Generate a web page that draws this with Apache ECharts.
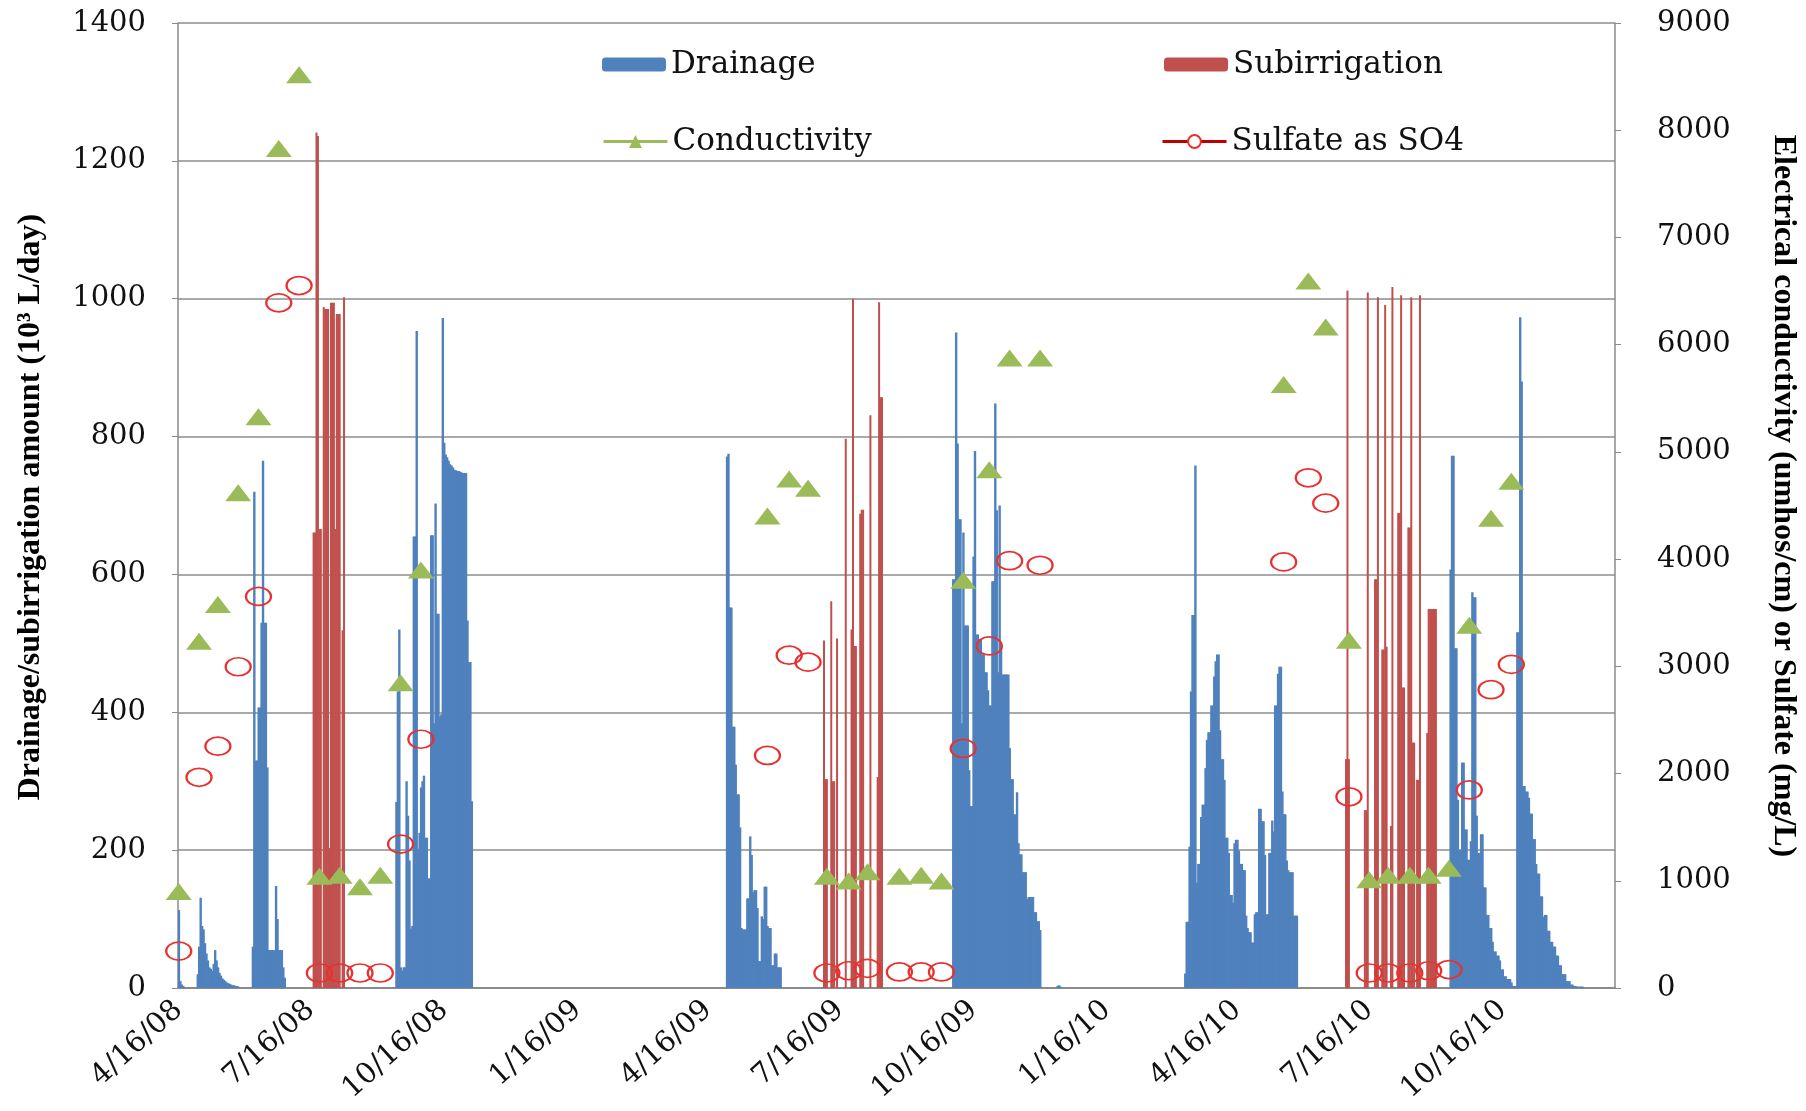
<!DOCTYPE html>
<html>
<head>
<meta charset="utf-8">
<script src="https://cdn.jsdelivr.net/npm/echarts@6.0.0/dist/echarts.min.js"></script>
<style>
html, body { margin: 0; padding: 0; background: #fff; }
#main { width: 1806px; height: 1111px; }
</style>
</head>
<body>
<div id="main"></div>
<script>
// axis range (daily categories)
var firstDay = '2008-04-16';
var lastDay = '2011-01-01';

// drainage, 10^3 L/day, daily values: [start date, values...]
var drain08a = ['2008-04-16', [113, 10, 5, 3]];
var drain08b = ['2008-04-29', [20, 60, 131, 90, 85, 65, 50, 40, 30, 28, 25, 35, 55, 40, 30, 22, 18, 14, 12, 10, 8, 7, 6, 5, 4, 4, 3, 3, 2]];
var drain08c = ['2008-06-06', [60, 720, 330, 330, 407, 407, 530, 765, 530, 530, 320, 55, 55, 55, 55, 55, 148, 100, 55, 55, 55, 30, 15]];
var drain08d = ['2008-09-13', [270, 430, 520, 30, 25, 30, 30, 300, 250, 185, 86, 90, 655, 655, 953, 202, 225, 291, 300, 308, 218, 218, 159, 159, 657, 657, 384, 703, 543, 543, 394, 397, 972, 791, 774, 770, 765, 760, 758, 755, 752, 751, 750, 750, 749, 748, 747, 747, 747, 533, 473, 473, 271]];
var drain09a = ['2009-04-29', [771, 775, 552, 552, 379, 379, 324, 281, 281, 233, 87, 85, 85, 85, 130, 130, 220, 193, 139, 142, 142, 116, 39, 39, 104, 100, 147, 147, 90, 87, 87, 33, 33, 50, 50, 30, 30, 30]];
var drain09b = ['2009-10-02', [593, 593, 951, 790, 680, 680, 384, 661, 526, 526, 526, 316, 264, 264, 626, 779, 513, 513, 506, 506, 484, 484, 458, 458, 432, 410, 410, 590, 590, 848, 693, 458, 700, 497, 455, 455, 455, 455, 455, 348, 303, 303, 252, 252, 284, 210, 194, 194, 168, 168, 168, 129, 132, 132, 132, 132, 110, 110, 97, 97, 84]];
var drain09c = ['2009-12-13', [3, 4, 2]];
var drain10a = ['2010-03-11', [21, 96, 96, 205, 430, 541, 541, 758, 153, 180, 180, 248, 266, 266, 319, 360, 371, 371, 410, 410, 452, 474, 484, 484, 374, 332, 332, 302, 218, 218, 196, 135, 135, 124, 210, 215, 215, 199, 180, 180, 171, 171, 105, 87, 81, 81, 66, 66, 107, 110, 110, 260, 260, 242, 242, 193, 107, 107, 196, 196, 243, 227, 410, 410, 456, 466, 466, 285, 252, 252, 185, 171, 168, 168, 168, 105, 105, 105]];
var drain10b = ['2010-09-10', [607, 772, 772, 493, 493, 273, 200, 200, 327, 327, 230, 230, 186, 186, 213, 574, 567, 567, 250, 196, 196, 223, 223, 146, 146, 106, 106, 87, 87, 67, 53, 53, 47, 47, 40, 27, 27, 17, 17, 13, 13, 13, 8, 3, 3, 3, 516, 516, 973, 880, 293, 293, 285, 285, 276, 253, 253, 216, 216, 180, 166, 166, 133, 133, 103, 106, 106, 83, 83, 67, 67, 60, 60, 47, 47, 33, 33, 20, 20, 20, 10, 10, 10, 5, 5, 3, 3, 2, 2, 2, 2, 2]];

// subirrigation, 10^3 L/day
var sub08 = ['2008-07-18', [661, 661, 1241, 1236, 666, 666, 0, 988, 985, 985, 985, 203, 994, 994, 994, 666, 978, 978, 978, 0, 519, 1002]];
var sub09 = ['2009-07-05', [504, 303, 303, 0, 0, 561, 300, 300, 0, 507, 0, 0, 0, 0, 0, 797, 0, 0, 0, 520, 1000, 496, 496, 0, 0, 688, 694, 694, 0, 0, 0, 0, 831, 0, 0, 0, 0, 306, 995, 857, 857]];
var sub10 = ['2010-06-30', [332, 1012, 332, 0, 0, 0, 0, 0, 0, 0, 0, 0, 0, 258, 258, 1009, 0, 0, 0, 0, 593, 593, 1002, 0, 0, 491, 491, 991, 495, 0, 0, 235, 1017, 0, 0, 0, 689, 689, 1005, 436, 436, 0, 0, 668, 668, 1002, 356, 356, 0, 302, 302, 1005, 0, 0, 0, 0, 370, 550, 550, 550, 550, 550, 550]];

// water samples (right axis)
var sampleDates = [
  '2008-04-16', '2008-04-30', '2008-05-13', '2008-05-27', '2008-06-10', '2008-06-24', '2008-07-08',
  '2008-07-22', '2008-08-05', '2008-08-19', '2008-09-02', '2008-09-16', '2008-09-30',
  '2009-05-27', '2009-06-11', '2009-06-24', '2009-07-07', '2009-07-22', '2009-08-04', '2009-08-26',
  '2009-09-10', '2009-09-24', '2009-10-09', '2009-10-27', '2009-11-10', '2009-12-01',
  '2010-05-18', '2010-06-04', '2010-06-16', '2010-07-02', '2010-07-16', '2010-07-29', '2010-08-13',
  '2010-08-26', '2010-09-09', '2010-09-23', '2010-10-08', '2010-10-22'
];
var conductivity = [
  900, 3233, 3576, 4618, 5327, 7830, 8517, 1042, 1052, 945, 1052, 2846, 3899,
  4403, 4747, 4661, 1042, 999, 1085, 1042, 1052, 999, 3802, 4833, 5875, 5875,
  5628, 6594, 6165, 3243, 1010, 1052, 1052, 1052, 1117, 3383, 4382, 4726
];
var sulfate = [
  344, 1965, 2255, 2996, 3652, 6390, 6551, 140, 140, 140, 140, 1342, 2320,
  2169, 3104, 3039, 140, 161, 183, 150, 150, 150, 2234, 3190, 3985, 3942,
  3974, 4758, 4522, 1783, 140, 140, 140, 161, 172, 1847, 2782, 3018
];

var DAY = 86400000;
function toUTC(s) {
  var p = s.split('-');
  return Date.UTC(+p[0], +p[1] - 1, +p[2]);
}
function pad(n) { return n < 10 ? '0' + n : '' + n; }

var t0 = toUTC(firstDay);
var nDays = Math.round((toUTC(lastDay) - t0) / DAY) + 1;
var days = [];
for (var i = 0; i < nDays; i++) {
  var d = new Date(t0 + i * DAY);
  days.push(d.getUTCFullYear() + '-' + pad(d.getUTCMonth() + 1) + '-' + pad(d.getUTCDate()));
}

function daily(segments) {
  var out = days.map(function () { return 0; });
  segments.forEach(function (seg) {
    var k = Math.round((toUTC(seg[0]) - t0) / DAY);
    seg[1].forEach(function (v, j) { out[k + j] = v; });
  });
  return out;
}
var drainage = daily([drain08a, drain08b, drain08c, drain08d, drain09a, drain09b, drain09c, drain10a, drain10b]);
var subirrigation = daily([sub08, sub09, sub10]);

function pairs(vals) {
  return sampleDates.map(function (d, i) { return [d, vals[i]]; });
}

function isTickDay(idx, val) {
  return /-(01|04|07|10)-16$/.test(val);
}
function plainNum(v) { return String(v); }

var myChart = echarts.init(document.getElementById('main'));

var tickFont = 'DejaVu Serif';
var option = {
  animation: false,
  grid: {
    left: 178,
    right: 191,
    top: 23,
    bottom: 123
  },
  legend: [
    { data: ['Drainage'], left: 602, top: 49, padding: 0, itemWidth: 64, itemHeight: 14,
      textStyle: { fontFamily: tickFont, fontSize: 31, color: '#111' } },
    { data: ['Subirrigation'], left: 1164, top: 49, padding: 0, itemWidth: 64, itemHeight: 14,
      textStyle: { fontFamily: tickFont, fontSize: 31, color: '#111' } },
    { data: ['Conductivity'], left: 602, top: 126, padding: 0, itemWidth: 64, itemHeight: 16,
      lineStyle: { color: '#9BBB59', width: 3, opacity: 1 },
      textStyle: { fontFamily: tickFont, fontSize: 31, color: '#111' } },
    { data: ['Sulfate as SO4'], left: 1161, top: 126, padding: 0, itemWidth: 64, itemHeight: 16,
      lineStyle: { color: '#C00000', width: 3, opacity: 1 },
      itemStyle: { color: '#fff', borderColor: '#E8312F', borderWidth: 2 },
      textStyle: { fontFamily: tickFont, fontSize: 31, color: '#111' } }
  ],
  xAxis: {
    type: 'category',
    data: days,
    boundaryGap: true,
    axisLine: { lineStyle: { color: '#8a8a8a', width: 2 } },
    axisTick: { interval: isTickDay, alignWithLabel: true, length: 10, lineStyle: { color: '#8a8a8a', width: 1.5 } },
    axisLabel: {
      interval: isTickDay,
      rotate: 42,
      margin: 18,
      fontFamily: tickFont,
      fontSize: 29,
      color: '#111',
      formatter: function (v) {
        var p = v.split('-');
        return (+p[1]) + '/' + (+p[2]) + '/' + p[0].slice(2);
      }
    },
    splitLine: { show: false }
  },
  yAxis: [
    {
      type: 'value',
      min: 0,
      max: 1400,
      interval: 200,
      axisLine: { show: true, lineStyle: { color: '#8a8a8a', width: 1.5 } },
      axisTick: { show: true, length: 6, lineStyle: { color: '#8a8a8a' } },
      axisLabel: { margin: 32, fontFamily: tickFont, fontSize: 29, color: '#111', formatter: plainNum },
      splitLine: { lineStyle: { color: '#8c8c8c', width: 1.5 } }
    },
    {
      type: 'value',
      min: 0,
      max: 9000,
      interval: 1000,
      position: 'right',
      axisLine: { show: true, lineStyle: { color: '#8a8a8a', width: 1.5 } },
      axisTick: { show: true, length: 6, lineStyle: { color: '#8a8a8a' } },
      axisLabel: { margin: 42, fontFamily: tickFont, fontSize: 29, color: '#111', formatter: plainNum },
      splitLine: { show: false }
    }
  ],
  graphic: [
    {
      type: 'text', x: 31, y: 507, rotation: Math.PI / 2,
      style: {
        text: 'Drainage/subirrigation amount (10³ L/day)',
        fontFamily: 'Liberation Serif', fontWeight: 'bold', fontSize: 32,
        fill: '#000', align: 'center', verticalAlign: 'middle'
      }
    },
    {
      type: 'text', x: 1783, y: 496, rotation: -Math.PI / 2,
      style: {
        text: 'Electrical conductivity (umhos/cm) or Sulfate (mg/L)',
        fontFamily: 'Liberation Serif', fontWeight: 'bold', fontSize: 32,
        fill: '#000', align: 'center', verticalAlign: 'middle'
      }
    }
  ],
  series: [
    {
      name: 'Drainage',
      type: 'bar',
      data: drainage,
      barWidth: 2.4,
      barGap: '-100%',
      itemStyle: { color: '#4F81BD' }
    },
    {
      name: 'Subirrigation',
      type: 'bar',
      data: subirrigation,
      barWidth: 2,
      barGap: '-100%',
      itemStyle: { color: '#C0504D' }
    },
    {
      name: 'Conductivity',
      type: 'line',
      yAxisIndex: 1,
      data: pairs(conductivity),
      showAllSymbol: true,
      symbol: 'triangle',
      symbolSize: [26, 17],
      lineStyle: { opacity: 0 },
      itemStyle: { color: '#9BBB59' }
    },
    {
      name: 'Sulfate as SO4',
      type: 'line',
      yAxisIndex: 1,
      data: pairs(sulfate),
      showAllSymbol: true,
      symbol: 'circle',
      symbolSize: [25, 18],
      lineStyle: { opacity: 0, color: '#C00000' },
      itemStyle: { color: 'rgba(255,255,255,0)', borderColor: '#E8312F', borderWidth: 2 }
    }
  ]
};

option && myChart.setOption(option);
</script>
</body>
</html>
